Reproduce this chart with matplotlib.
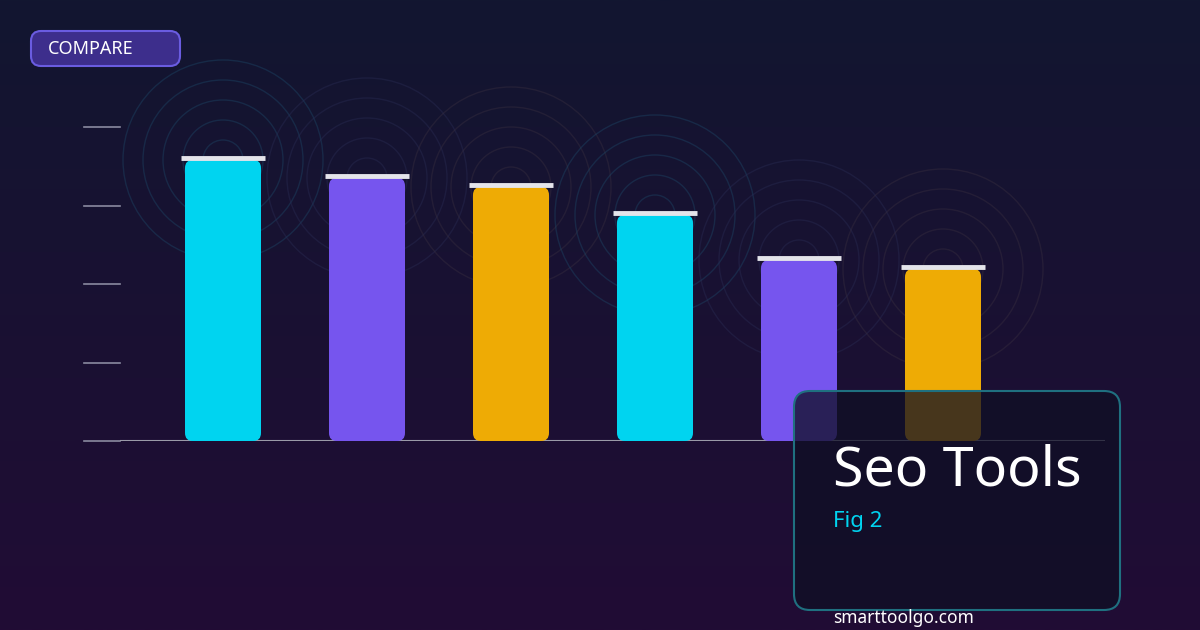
import matplotlib
matplotlib.use("Agg")
import matplotlib.pyplot as plt
import numpy as np
from matplotlib.patches import FancyBboxPatch, Circle

values = [89.5, 83.8, 80.9, 72.0, 57.6, 54.8]
colors = ["#00d4f0", "#7655ee", "#eeab05", "#00d4f0", "#7655ee", "#eeab05"]
title = "Seo Tools"
subtitle = "Fig 2"
badge = "COMPARE"
site = "smarttoolgo.com"

W, H = 1200, 630
fig = plt.figure(figsize=(12, 6.3), dpi=100)
bg = fig.add_axes([0, 0, 1, 1])
grad = np.linspace(0, 1, 256).reshape(-1, 1)
c1 = np.array([0x12, 0x16, 0x30]) / 255
c2 = np.array([0x21, 0x0c, 0x35]) / 255
img = c1 + (c2 - c1) * grad[..., None]
bg.imshow(img, extent=[0, W, H, 0], aspect="auto")
bg.set_xlim(0, W); bg.set_ylim(H, 0); bg.axis("off")

for cx, cy, col in [(223, 160, "#1d4a6a"), (367, 178, "#2a2d55"), (511, 187, "#3a3040"),
                    (655, 215, "#1d4a6a"), (799, 260, "#2a2d55"), (943, 269, "#3a3040")]:
    for r in [20, 40, 60, 80, 100]:
        bg.add_patch(Circle((cx, cy), r, fill=False, ec=col, lw=1, alpha=0.4))

bg.add_patch(FancyBboxPatch((31, 31), 149, 35, boxstyle="round,pad=0,rounding_size=10",
                            fc="#3d2e8c", ec="#6a5ce0", lw=1.5))
bg.text(48, 49, badge, color="white", fontsize=13, va="center", family="Noto Sans")

for v in [0, 25, 50, 75, 100]:
    y = 441 - v * 3.14
    bg.plot([84, 120], [y, y], color="#8a8aa0", lw=1.2)

ax = fig.add_axes([120 / W, (H - 441) / H, 985 / W, 314 / H])
ax.set_facecolor("none")
ax.set_xlim(-103 / 144, (985 - 103) / 144)
ax.set_ylim(0, 100)
ax.axis("off")
bw = 76 / 144
for i, (v, c) in enumerate(zip(values, colors)):
    ax.add_patch(FancyBboxPatch((i - bw / 2, 0), bw, v,
                                boxstyle="round,pad=0,rounding_size=0.055",
                                mutation_aspect=2.55 / 0.055, fc=c, ec="none", zorder=2))
    ax.plot([i - 42 / 144, i + 42 / 144], [v + 0.6, v + 0.6], color="#e4e4ea", lw=3.5,
            solid_capstyle="butt", zorder=3)
ax.axhline(0, color="#9a9aa8", lw=1.5, zorder=1)

ov = fig.add_axes([0, 0, 1, 1]); ov.set_xlim(0, W); ov.set_ylim(H, 0); ov.axis("off")
ov.set_facecolor("none")
ov.add_patch(FancyBboxPatch((794, 391), 326, 219, boxstyle="round,pad=0,rounding_size=16",
                            fc="#0f0f25", alpha=0.75, ec="none"))
ov.add_patch(FancyBboxPatch((794, 391), 326, 219, boxstyle="round,pad=0,rounding_size=16",
                            fc="none", ec="#1f7080", lw=1.5))
ov.text(833, 471, title, color="white", fontsize=40, va="center", family="Noto Sans")
ov.text(833, 522, subtitle, color="#00d4f0", fontsize=16, va="center", family="Noto Sans")
ov.text(833, 618, site, color="white", fontsize=12.5, va="center", family="Noto Sans")

fig.savefig("out.png", dpi=100)
